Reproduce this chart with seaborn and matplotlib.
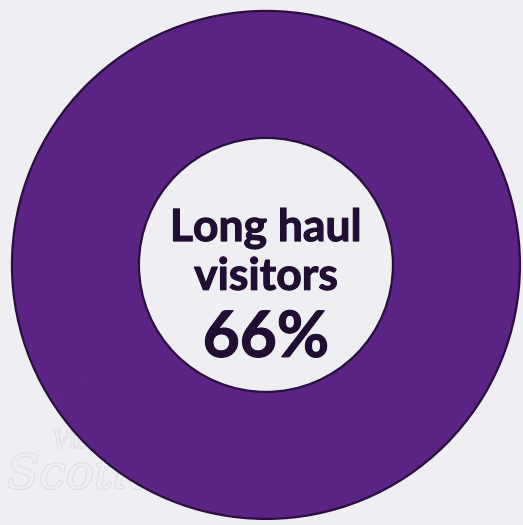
import matplotlib
matplotlib.use('Agg')
import matplotlib.pyplot as plt
import seaborn as sns
from matplotlib.patches import Circle
import matplotlib.patheffects as pe

# data
segments = ['Long haul', 'Other']
shares = [66, 34]
title_lines = ['Long haul', 'visitors']
label_pct = '66%'

bg = '#efeff3'
ring_col = '#5b2383'
edge_col = '#2a0f40'
text_col = '#200e33'

sns.set_theme(style='white')
plt.rcParams['font.family'] = ['Lato', 'DejaVu Sans']

fig = plt.figure(figsize=(5.23, 5.25), dpi=100)
fig.patch.set_facecolor(bg)
ax = fig.add_axes([0, 0, 1, 1])
ax.set_facecolor(bg)

# faint watermark behind the ring
ax.text(-0.84, -0.72, 'Visit', fontsize=17, style='italic', family='DejaVu Serif',
        color=bg, zorder=0, path_effects=[pe.withStroke(linewidth=1.2, foreground='#dadae0')])
ax.text(-1.02, -0.88, 'Scotland', fontsize=34, style='italic', family='DejaVu Serif',
        color=bg, zorder=0, path_effects=[pe.withStroke(linewidth=1.2, foreground='#dadae0')])

wedges, _ = ax.pie(shares, labels=None, radius=1, startangle=90, counterclock=False,
                   colors=[ring_col] * len(shares),
                   wedgeprops=dict(width=0.5, edgecolor=ring_col, linewidth=0.6))
for w in wedges:
    w.set_zorder(2)

# outline of the ring
ax.add_patch(Circle((0, 0), 1, fill=False, edgecolor=edge_col, linewidth=1.6, zorder=3))
ax.add_patch(Circle((0, 0), 0.5, fill=False, edgecolor=edge_col, linewidth=1.6, zorder=3))

txt_fx = [pe.withStroke(linewidth=0.8, foreground=text_col)]
ax.text(0, 0.094, title_lines[0], ha='center', va='baseline', fontsize=32,
        fontweight='bold', color=text_col, zorder=4, path_effects=txt_fx)
ax.text(0, -0.098, title_lines[1], ha='center', va='baseline', fontsize=32,
        fontweight='bold', color=text_col, zorder=4, path_effects=txt_fx)
ax.text(0, -0.362, label_pct, ha='center', va='baseline', fontsize=46,
        fontweight='bold', color=text_col, zorder=4, path_effects=txt_fx)

ax.set_xlim(-1.047, 1.012)
ax.set_ylim(-1.024, 1.043)
ax.set_aspect('equal')
ax.axis('off')

fig.savefig('out.png', dpi=100, facecolor=bg)
